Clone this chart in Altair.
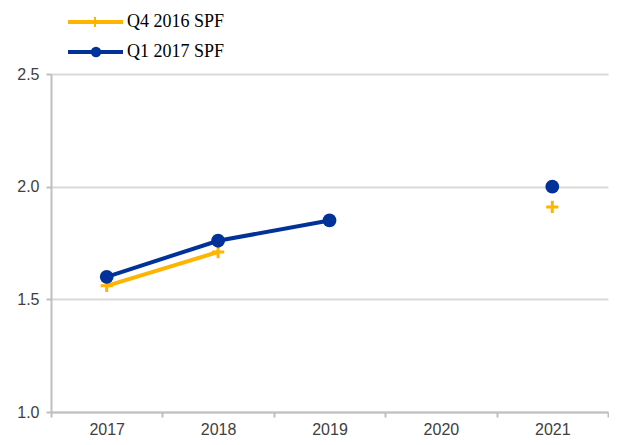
import altair as alt
import pandas as pd

years = ["2017", "2018", "2019", "2020", "2021"]
series = ["Q4 2016 SPF", "Q1 2017 SPF"]
q4_2016 = [1.56, 1.71, None, None, 1.91]
q1_2017 = [1.60, 1.76, 1.85, None, 2.00]
y_ticks = [1.0, 1.5, 2.0, 2.5]
colors = ["#FFB400", "#003299"]

rows = []
for name, vals in zip(series, [q4_2016, q1_2017]):
    for yr, v in zip(years, vals):
        rows.append({"year": yr, "series": name, "value": v})
df = pd.DataFrame(rows)

x_enc = alt.X(
    "year:O",
    bandPosition=0.5,
    scale=alt.Scale(type="band", domain=years, paddingInner=0, paddingOuter=0),
    axis=alt.Axis(title=None, labelAngle=0, tickBand="extent", grid=False,
                  tickSize=5, labelPadding=4),
)
y_enc = alt.Y(
    "value:Q",
    scale=alt.Scale(domain=[1.0, 2.5], nice=False, zero=False),
    axis=alt.Axis(title=None, values=y_ticks, format=".1f", grid=True,
                  tickSize=5, labelPadding=7),
)
color_enc = alt.Color("series:N", scale=alt.Scale(domain=series, range=colors), legend=None)

base = alt.Chart(df)

lines = base.mark_line(strokeWidth=4, invalid="break-paths-show-domains").encode(
    x=x_enc, y=y_enc, color=color_enc, detail="series:N"
)

plus_path = "M-1,0H1M0,-1V1"
orange_pts = base.transform_filter(
    (alt.datum.series == series[0]) & alt.expr.isValid(alt.datum.value)
).mark_point(shape=plus_path, size=150, strokeWidth=3, filled=False, opacity=1,
             color=colors[0]).encode(x=x_enc, y=y_enc)

blue_pts = base.transform_filter(
    (alt.datum.series == series[1]) & alt.expr.isValid(alt.datum.value)
).mark_circle(size=190, opacity=1, color=colors[1]).encode(x=x_enc, y=y_enc)


def legend_entry(i, name, color, marker):
    d = alt.Data(values=[{"label": name}])
    yv = -52 + 30 * i
    ln = alt.Chart(d).mark_rule(strokeWidth=4, color=color).encode(
        x=alt.value(17), x2=alt.value(72), y=alt.value(yv)
    )
    if marker == "plus":
        mk = alt.Chart(d).mark_point(shape="M0,-1V1", size=100, strokeWidth=2,
                                     filled=False, opacity=1, color=color).encode(
            x=alt.value(44), y=alt.value(yv))
    else:
        mk = alt.Chart(d).mark_circle(size=110, opacity=1, color=color).encode(
            x=alt.value(45), y=alt.value(yv))
    tx = alt.Chart(d).mark_text(align="left", baseline="middle", font="Liberation Serif",
                                fontSize=18, color="#000000").encode(
        x=alt.value(76), y=alt.value(yv), text="label:N")
    return [ln, mk, tx]


leg = legend_entry(0, series[0], colors[0], "plus") + legend_entry(1, series[1], colors[1], "circle")

chart = alt.layer(lines, orange_pts, blue_pts, *leg).properties(
    width=601, height=429,
    autosize=alt.AutoSizeParams(type="fit", contains="padding"),
    padding={"left": 8, "top": 5, "right": 0, "bottom": 0},
).configure_view(stroke=None).configure_axis(
    domainColor="#BFBFBF", domainWidth=2,
    gridColor="#D9D9D9", gridWidth=2,
    tickColor="#BFBFBF", tickWidth=2,
    labelFont="Liberation Sans", labelFontSize=16, labelColor="#404040",
)

chart.save("out.html", embed_options={"renderer": "svg", "actions": False})
